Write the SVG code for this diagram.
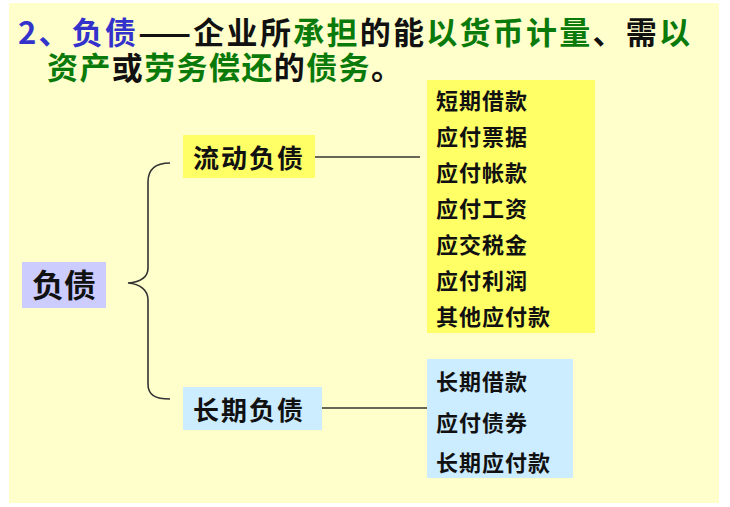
<svg xmlns="http://www.w3.org/2000/svg" width="730" height="507" viewBox="0 0 730 507">
<style>
text{font-family:"Noto Sans CJK SC","Noto Sans",sans-serif;font-weight:bold;fill:#111}
.t{font-size:31px}
.b{fill:#3333CC}
.g{fill:#0A7A0A}
.k{fill:#111}
.n{font-size:26px;letter-spacing:2px}
.i{font-size:22px;letter-spacing:1px}
.c{fill:none;stroke:#333;stroke-width:1.6}
</style>
<rect x="0" y="0" width="730" height="507" fill="#ffffff"/>
<rect x="9" y="3" width="710" height="500" fill="#FFFFCC"/>
<g id="title">
<text class="t" x="18" y="44" textLength="672" lengthAdjust="spacing"><tspan class="b">2、负债</tspan><tspan class="k">——企业所</tspan><tspan class="g">承担</tspan><tspan class="k">的能</tspan><tspan class="g">以货币计量</tspan><tspan class="k">、需</tspan><tspan class="g">以</tspan></text>
<text class="t" x="47" y="79" textLength="355" lengthAdjust="spacing"><tspan class="g">资产</tspan><tspan class="k">或</tspan><tspan class="g">劳务偿还</tspan><tspan class="k">的</tspan><tspan class="g">债务</tspan><tspan class="k">。</tspan></text>
</g>
<g id="connectors">
<path class="c" d="M170,163 C155,163 148,170 148,182 L148,268 C148,278 140,282 128,283 C140,284 148,290 148,300 L148,384 C148,395 155,399 170,399"/>
<line class="c" x1="315" y1="157" x2="420" y2="157"/>
<line class="c" x1="322" y1="408" x2="427" y2="408"/>
</g>
<g id="node-fuzhai">
<rect x="22" y="262" width="84" height="46" fill="#CCCCFF"/>
<text x="64" y="297" font-size="32" text-anchor="middle">负债</text>
</g>
<g id="node-liudong">
<rect x="183" y="135" width="132" height="43" fill="#FFFF66"/>
<text class="n" x="193" y="168">流动负债</text>
</g>
<g id="node-changqi">
<rect x="183" y="387" width="139" height="43" fill="#CCECFF"/>
<text class="n" x="193" y="420">长期负债</text>
</g>
<g id="node-liudong-items">
<rect x="427" y="80" width="168" height="253" fill="#FFFF66"/>
<text class="i" x="436" y="109">短期借款</text>
<text class="i" x="436" y="145">应付票据</text>
<text class="i" x="436" y="181">应付帐款</text>
<text class="i" x="436" y="217">应付工资</text>
<text class="i" x="436" y="253">应交税金</text>
<text class="i" x="436" y="289">应付利润</text>
<text class="i" x="436" y="325">其他应付款</text>
</g>
<g id="node-changqi-items">
<rect x="427" y="359" width="146" height="119" fill="#CCECFF"/>
<text class="i" x="436" y="390">长期借款</text>
<text class="i" x="436" y="431">应付债券</text>
<text class="i" x="436" y="471">长期应付款</text>
</g>
</svg>
